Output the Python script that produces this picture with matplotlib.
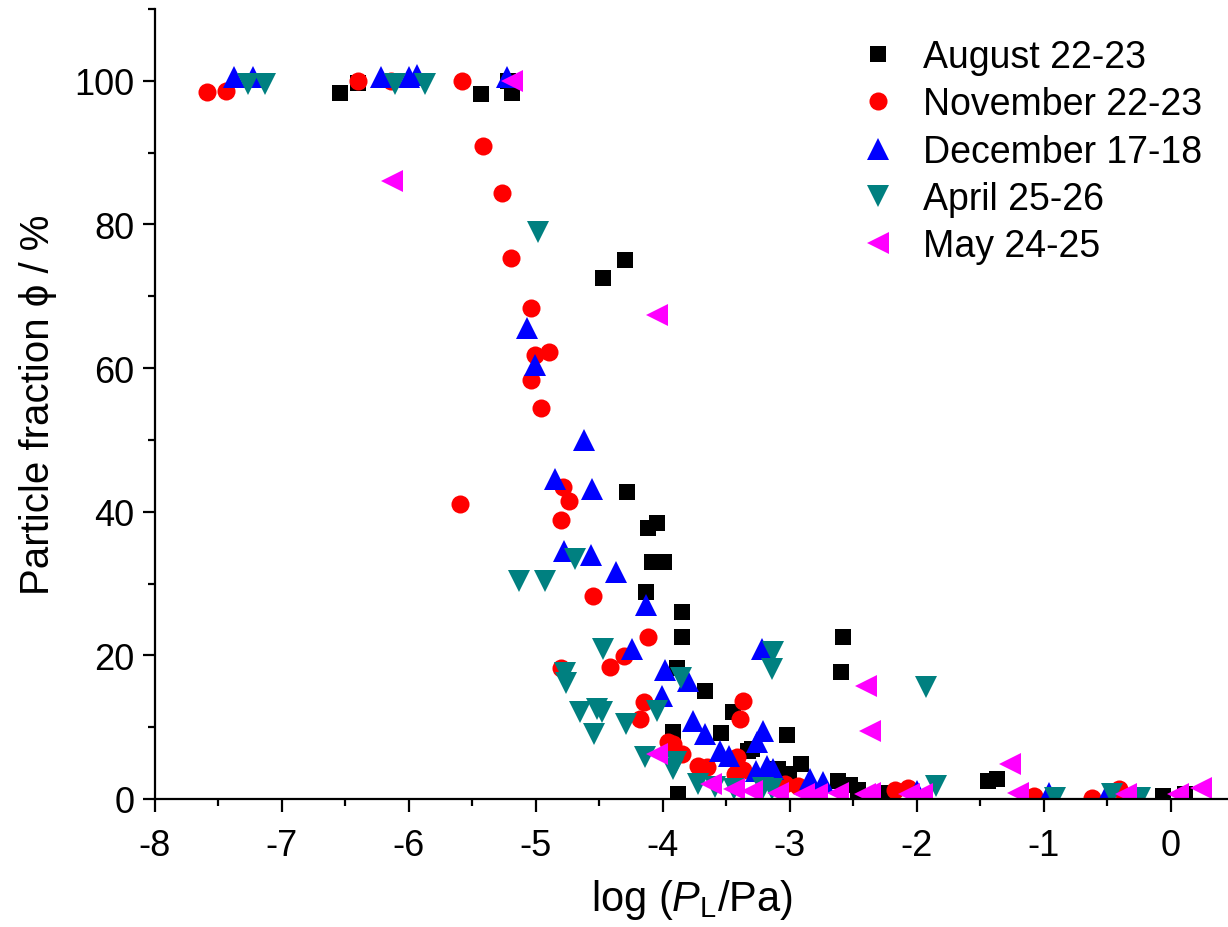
import matplotlib
matplotlib.use("Agg")
import matplotlib.pyplot as plt
from matplotlib.ticker import MultipleLocator

# ── Data (log P_L vs particle fraction) ────────────────
aug_x = [-6.54, -6.40, -5.43, -5.22, -5.19, -4.30, -4.47, -4.28, -4.12, -4.05,
         -4.09, -3.99, -4.13, -3.85, -3.85, -3.89, -3.67, -3.45, -3.92, -3.54,
         -3.33, -3.88, -2.58, -2.60, -3.02, -3.30, -2.91, -3.09, -3.01, -2.62,
         -2.53, -2.46, -2.24, -1.44, -1.37, -0.06, 0.11]
aug_y = [98.3, 99.7, 98.2, 100.0, 98.3, 75.1, 72.6, 42.8, 37.7, 38.4,
         33.0, 33.0, 28.8, 26.1, 22.5, 18.2, 15.0, 12.1, 9.3, 9.2,
         6.7, 0.7, 22.5, 17.7, 8.9, 7.0, 4.9, 4.2, 3.5, 2.5,
         1.9, 1.2, 0.9, 2.5, 2.8, 0.4, 0.7]

nov_x = [-7.59, -7.44, -6.40, -6.14, -5.58, -5.42, -5.27, -5.20, -5.04, -4.90,
         -5.01, -5.04, -4.96, -4.79, -4.74, -5.60, -4.80, -4.55, -4.12, -4.31,
         -4.42, -4.80, -4.15, -4.18, -3.37, -3.39, -3.96, -3.92, -3.85, -3.72,
         -3.65, -3.42, -3.43, -3.37, -3.04, -2.94, -2.17, -2.07, -1.08, -0.62,
         -0.41]
nov_y = [98.4, 98.6, 100.0, 100.0, 100.0, 90.9, 84.4, 75.3, 68.3, 62.2,
         61.8, 58.4, 54.5, 43.4, 41.5, 41.1, 38.8, 28.3, 22.6, 19.9,
         18.4, 18.2, 13.5, 11.2, 13.7, 11.1, 7.9, 7.7, 6.3, 4.6,
         4.5, 5.8, 3.5, 4.0, 2.1, 1.8, 1.2, 1.6, 0.4, 0.2,
         1.4]

dec_x = [-7.38, -7.23, -6.22, -6.00, -5.94, -5.23, -5.07, -5.01, -4.62, -4.85,
         -4.56, -4.78, -4.57, -4.37, -4.13, -4.24, -3.98, -3.80, -4.01, -3.76,
         -3.67, -3.55, -3.48, -3.22, -3.21, -3.26, -3.27, -3.18, -3.13, -2.84,
         -2.74, -2.00, -0.96, -0.50]
dec_y = [100.5, 100.5, 100.5, 100.5, 100.8, 100.5, 65.6, 60.4, 50.0, 44.6,
         43.2, 34.5, 34.0, 31.6, 27.0, 20.9, 18.0, 16.5, 14.4, 10.9,
         9.1, 6.7, 6.0, 20.9, 9.5, 8.0, 3.9, 4.6, 4.2, 2.8,
         2.3, 1.1, 0.9, 0.7]

apr_x = [-7.27, -7.13, -6.11, -5.87, -4.98, -4.69, -5.13, -4.93, -4.47, -4.77,
         -4.76, -3.86, -4.65, -4.52, -4.48, -4.54, -4.29, -4.05, -4.14, -3.92,
         -3.90, -3.72, -3.59, -3.44, -3.21, -3.14, -3.13, -3.14, -1.93, -1.85,
         -0.91, -0.46, -0.24]
apr_y = [99.6, 99.6, 99.6, 99.6, 79.0, 33.4, 30.4, 30.4, 20.9, 17.6,
         16.1, 16.8, 12.1, 12.6, 12.1, 9.1, 10.5, 12.3, 5.8, 4.2,
         5.1, 2.1, 1.7, 1.4, 1.6, 1.4, 20.4, 18.1, 15.6, 1.8,
         0.2, 0.7, 0.2]

may_x = [-5.19, -6.13, -4.05, -4.05, -3.62, -3.44, -3.30, -3.09, -2.89, -2.79,
         -2.62, -2.41, -2.37, -2.40, -2.37, -2.06, -1.96, -1.27, -1.20, -0.35,
         0.06, 0.24]
may_y = [100.0, 86.0, 67.4, 6.3, 2.1, 1.4, 1.1, 0.9, 0.7, 0.7,
         0.9, 0.7, 0.9, 15.7, 9.5, 0.7, 0.7, 4.9, 0.9, 0.7,
         0.7, 1.6]

series = [
    ("August 22-23", aug_x, aug_y, "s", "black", 12),
    ("November 22-23", nov_x, nov_y, "o", "red", 13),
    ("December 17-18", dec_x, dec_y, "^", "blue", 16.5),
    ("April 25-26", apr_x, apr_y, "v", "#008080", 16.5),
    ("May 24-25", may_x, may_y, "<", "magenta", 16.5),
]

# ── Style ──────────────────────────────────────────────
plt.rcParams["font.family"] = ["Liberation Sans", "DejaVu Sans"]
plt.rcParams["mathtext.fontset"] = "custom"
plt.rcParams["mathtext.rm"] = "Liberation Sans"
plt.rcParams["mathtext.it"] = "Liberation Sans:italic"
plt.rcParams["axes.unicode_minus"] = False

fig = plt.figure(figsize=(12.28, 9.28), dpi=100)
ax = fig.add_axes([155 / 1228, 128 / 928, 1073 / 1228, 790 / 928])

for label, xs, ys, mk, col, ms in series:
    ax.plot(xs, ys, linestyle="none", marker=mk, color=col, markersize=ms,
            markeredgewidth=0, label=label)

ax.set_xlim(-8, 0.45)
ax.set_ylim(0, 110)
ax.xaxis.set_major_locator(MultipleLocator(1))
ax.xaxis.set_minor_locator(MultipleLocator(0.5))
ax.yaxis.set_minor_locator(MultipleLocator(10))
ax.set_yticks([0, 20, 40, 60, 80, 100])

for side in ["top", "right"]:
    ax.spines[side].set_visible(False)
for side in ["left", "bottom"]:
    ax.spines[side].set_linewidth(1.6)

ax.tick_params(which="major", direction="out", length=9, width=1.6,
               labelsize=26)
ax.tick_params(axis="x", which="major", pad=12)
ax.tick_params(axis="y", which="major", pad=6)
ax.tick_params(which="minor", direction="out", length=5, width=1.6)

ax.set_xlabel(r"log ($P_{\rm L}$/Pa)", fontsize=30, labelpad=10)
ax.set_ylabel("Particle fraction \u03d5 / %", fontsize=29, labelpad=12)

ax.legend(loc="upper right", bbox_to_anchor=(1.0, 0.995), frameon=False,
          fontsize=27, handletextpad=0.6, labelspacing=0.3,
          markerscale=1.0, handlelength=1.2, borderaxespad=0.3)

plt.savefig("out.png", dpi=100)
plt.close()
